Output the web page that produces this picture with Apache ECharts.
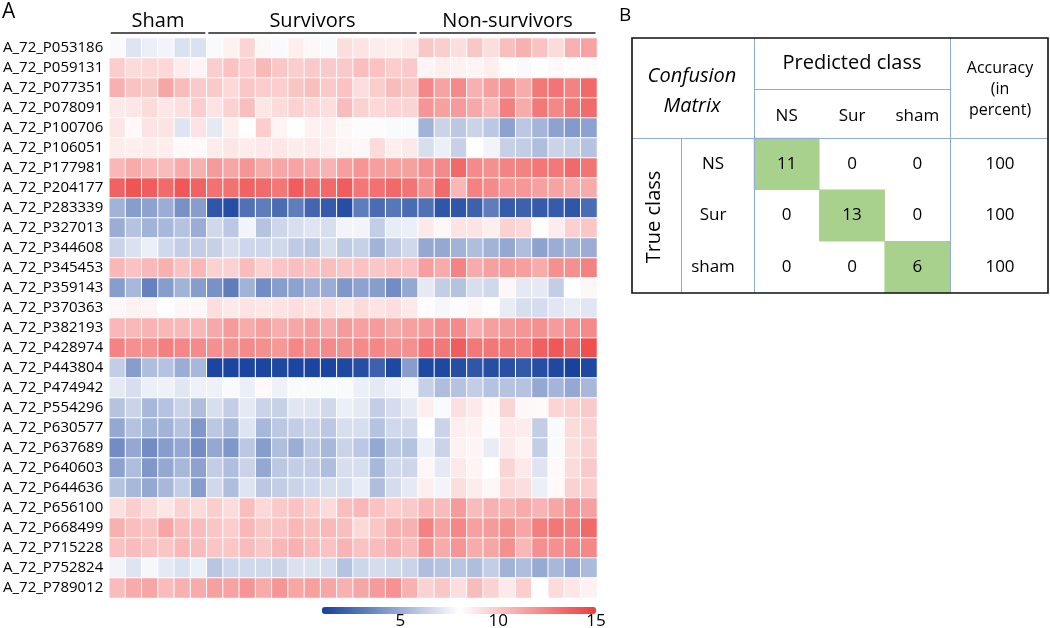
<!DOCTYPE html>
<html><head><meta charset="utf-8">
<script src="https://cdn.jsdelivr.net/npm/echarts@6/dist/echarts.min.js"></script>
<style>html,body{margin:0;padding:0;background:#fff}#c{width:1050px;height:628px}</style>
</head><body><div id="c"></div>
<script>
const genes = ['A_72_P053186','A_72_P059131','A_72_P077351','A_72_P078091','A_72_P100706','A_72_P106051','A_72_P177981','A_72_P204177','A_72_P283339','A_72_P327013','A_72_P344608','A_72_P345453','A_72_P359143','A_72_P370363','A_72_P382193','A_72_P428974','A_72_P443804','A_72_P474942','A_72_P554296','A_72_P630577','A_72_P637689','A_72_P640603','A_72_P644636','A_72_P656100','A_72_P668499','A_72_P715228','A_72_P752824','A_72_P789012'];
const groupNames = ['Sham','Survivors','Non-survivors'];
const sham = [
[7.8,7.0,7.4,7.6,6.9,6.9],
[9.8,9.3,9.4,9.4,8.7,8.4],
[10.8,10.2,10.0,11.2,10.4,9.9],
[8.8,8.9,9.3,8.9,9.1,9.8],
[8.9,8.2,9.0,9.0,7.0,9.0],
[8.7,8.6,8.7,8.6,8.2,8.2],
[10.6,11.0,10.6,10.4,11.0,10.8],
[13.6,14.1,13.8,13.3,14.0,13.6],
[5.2,4.4,4.6,5.0,4.0,4.4],
[5.0,5.8,5.2,5.4,5.8,5.0],
[6.4,6.9,7.4,6.6,6.2,6.2],
[10.6,10.2,10.5,10.8,10.2,10.6],
[4.4,5.4,3.4,4.4,5.2,4.4],
[8.3,8.5,8.4,8.0,8.3,8.3],
[10.6,10.5,10.7,10.6,10.5,10.6],
[12.4,12.0,12.0,12.6,12.3,12.2],
[6.2,4.4,5.6,5.8,5.0,5.4],
[7.2,6.8,7.4,7.5,7.1,7.5],
[5.8,6.4,5.4,5.8,6.4,5.6],
[4.8,5.8,5.2,5.2,5.8,4.2],
[3.8,4.8,3.8,4.4,4.8,3.8],
[4.6,5.6,4.2,4.8,5.4,4.6],
[5.8,5.4,4.8,5.4,6.2,4.4],
[9.1,9.8,9.3,8.9,9.6,9.3],
[10.8,10.3,10.2,11.2,10.4,10.4],
[10.2,10.4,10.2,10.1,10.6,10.4],
[7.6,7.0,7.7,7.2,6.9,7.4],
[10.4,11.0,11.2,10.4,10.8,11.0]];
const survivors = [
[7.8,8.5,9.5,8.3,7.8,8.6,8.3,7.8,9.2,9.0,8.7,8.6,8.8],
[9.8,10.2,9.8,10.5,10.0,9.8,9.9,9.9,9.9,10.3,10.2,9.8,9.9],
[9.9,9.4,10.0,9.8,9.8,10.1,10.3,9.9,10.2,9.2,9.8,10.4,10.1],
[9.0,9.6,10.3,8.9,9.3,9.6,9.4,9.2,10.4,9.6,9.4,9.5,9.5],
[7.2,8.6,8.0,9.8,8.4,8.0,8.5,8.6,8.3,7.9,7.9,7.8,7.8],
[8.7,8.9,8.7,8.8,8.9,8.7,8.8,8.6,8.4,8.3,9.3,8.6,8.8],
[11.6,11.2,11.8,11.0,11.2,11.3,11.0,10.7,11.5,11.8,11.5,11.4,11.4],
[13.1,13.1,13.6,13.3,12.9,13.8,13.2,13.4,13.8,12.9,13.1,13.4,13.0],
[1.8,1.5,2.8,3.2,2.6,3.2,2.4,2.0,1.5,3.2,2.6,3.0,2.6],
[6.6,6.0,7.6,5.8,6.5,6.8,7.0,6.8,7.6,7.6,6.2,7.3,7.4],
[6.3,6.8,6.5,6.5,6.6,6.1,5.9,6.8,6.1,6.3,5.2,6.1,6.6],
[9.6,9.6,10.4,9.6,10.1,10.3,10.2,10.3,10.1,10.2,10.0,10.2,10.2],
[4.0,3.2,5.2,3.8,4.4,4.6,5.0,5.0,4.2,4.6,4.4,3.8,4.8],
[9.2,8.8,9.0,8.9,9.0,9.2,9.0,9.2,8.9,9.3,9.0,9.2,8.8],
[11.1,11.6,11.0,11.4,10.9,11.2,11.4,11.0,11.6,11.4,11.6,11.1,11.4],
[12.0,12.0,12.2,12.0,11.7,12.3,12.0,12.2,12.0,12.2,12.3,12.0,12.0],
[1.2,1.2,1.2,1.2,1.3,1.2,1.2,1.2,1.3,1.5,2.2,1.3,4.4],
[7.5,7.8,7.4,8.2,7.5,7.8,7.8,7.8,7.8,7.4,7.2,7.5,7.7],
[6.8,6.2,7.2,6.4,6.3,7.1,7.0,6.6,7.4,7.2,6.2,6.7,7.2],
[6.0,5.4,7.0,5.4,6.0,6.2,6.4,6.0,6.8,6.8,5.8,6.6,6.6],
[4.8,4.2,6.0,4.4,5.6,5.0,6.0,5.4,6.4,6.0,4.8,6.0,5.8],
[6.2,5.6,6.4,4.8,6.0,6.2,6.2,5.6,6.8,6.8,5.4,6.6,6.5],
[6.6,5.6,7.0,6.0,6.2,6.4,6.6,6.8,6.8,7.3,5.6,6.7,7.2],
[9.8,9.3,10.3,9.4,9.9,10.2,9.8,9.3,10.3,10.6,10.2,9.8,9.9],
[10.1,9.8,10.6,10.0,10.2,10.6,10.3,10.5,10.3,9.4,10.0,10.8,10.8],
[10.1,10.0,10.4,10.0,10.6,10.8,10.4,10.2,10.7,10.2,10.4,10.8,10.4],
[5.9,6.5,6.6,6.6,6.4,6.9,6.9,6.7,5.8,6.5,6.7,6.6,6.4],
[11.4,11.3,11.8,11.0,11.8,11.2,11.4,11.2,10.8,11.2,11.6,11.9,10.8]];
const nonSurvivors = [
[10.0,9.8,9.2,10.0,9.2,10.3,10.8,10.2,9.3,10.8,11.3],
[8.4,8.6,8.5,8.4,8.6,8.1,7.8,8.0,8.2,8.1,8.1],
[12.3,11.3,12.2,10.8,11.5,12.0,11.0,12.8,13.0,12.5,13.4],
[11.8,11.4,11.6,11.1,10.6,12.6,11.0,12.8,12.3,12.8,13.3],
[5.2,6.4,6.0,6.4,6.0,4.6,6.0,5.3,4.6,4.3,4.6],
[6.8,7.4,6.3,8.0,7.6,6.3,6.2,5.6,6.4,6.3,5.8],
[12.0,12.2,13.4,12.2,12.0,12.4,12.5,12.9,12.8,13.4,13.0],
[12.0,13.3,10.6,12.5,12.2,11.7,11.7,11.4,11.3,11.0,11.0],
[2.8,1.8,1.8,2.2,3.2,2.0,2.2,2.0,2.0,1.8,2.6],
[8.8,8.3,9.0,9.0,8.6,9.6,9.4,8.1,8.7,9.7,10.0],
[4.8,4.8,5.2,5.6,5.2,4.8,5.6,4.6,5.0,5.2,5.0],
[11.5,11.0,12.4,11.0,11.4,11.6,11.5,11.0,12.0,12.0,12.5],
[7.2,6.2,5.8,6.8,6.6,8.3,7.2,7.2,6.2,8.0,8.3],
[8.1,7.7,7.9,8.3,8.0,7.3,6.8,6.7,7.1,7.3,7.1],
[11.6,12.0,12.2,10.9,11.5,11.6,11.8,12.0,11.6,11.9,12.2],
[13.0,12.8,13.8,12.8,12.9,12.8,12.6,13.7,14.0,13.3,14.3],
[1.3,1.3,1.5,1.8,1.5,1.6,1.9,1.5,1.3,1.1,1.3],
[6.3,5.6,5.8,6.2,5.8,5.8,5.8,4.8,5.3,4.8,5.4],
[8.6,7.8,9.1,8.8,8.2,9.5,8.3,8.2,9.5,9.6,9.9],
[8.0,6.4,8.6,8.5,7.9,8.8,8.7,6.2,7.8,9.3,9.6],
[7.4,6.4,8.5,8.4,7.3,8.8,8.4,6.2,7.8,9.2,9.6],
[8.3,7.2,8.8,8.4,8.0,9.5,8.8,7.0,8.2,9.3,9.9],
[8.6,7.6,9.2,8.7,8.3,9.4,9.2,7.4,8.2,9.6,9.8],
[10.6,10.4,11.6,10.4,10.8,10.7,11.0,10.7,11.2,11.8,11.4],
[12.5,11.4,12.3,11.4,11.6,12.0,11.2,12.6,12.9,12.6,13.4],
[11.8,11.0,11.8,11.0,11.2,12.0,10.6,12.0,12.0,12.2,12.3],
[5.6,5.8,5.9,5.6,6.2,5.2,5.6,4.9,5.4,4.9,5.5],
[9.6,10.0,9.2,10.4,9.6,8.8,9.8,8.0,9.3,8.9,8.5]];
const colorTicks = [5, 10, 15];
const cmClasses = ['NS', 'Sur', 'sham'];
const cmMatrix = [[11,0,0],[0,13,0],[0,0,6]];
const accuracy = [100, 100, 100];

const FONT = '"Open Sans", "Noto Sans", sans-serif';
const groups = [sham, survivors, nonSurvivors];
const columns = [];
groups.forEach((g, gi) => { for (let k = 0; k < g[0].length; k++) columns.push(groupNames[gi] + ' ' + (k + 1)); });
const heat = [];
genes.forEach((gn, r) => { let c = 0; groups.forEach(g => { g[r].forEach(v => { heat.push([c, r, v]); c++; }); }); });
const cmData = [];
cmMatrix.forEach((row, r) => row.forEach((v, c) => cmData.push({ value: [c, r, v], itemStyle: { color: v > 0 ? '#a9d18e' : 'rgba(255,255,255,0)' } })));

const chart = echarts.init(document.getElementById('c'), null, { renderer: 'canvas' });
chart.setOption({
  animation: false,
  textStyle: { fontFamily: FONT },
  grid: [
    { left: 108, top: 38, width: 489, height: 560 },
    { left: 322, top: 607, width: 274, height: 7 },
    { left: 754, top: 138, width: 196, height: 155 }
  ],
  xAxis: [
    { gridIndex: 0, type: 'category', data: columns, show: false },
    { gridIndex: 1, type: 'value', min: 1, max: 15, axisLine: { show: false }, axisTick: { show: false }, splitLine: { show: false },
      axisLabel: { customValues: colorTicks, margin: 4, fontSize: 17, color: '#000', fontFamily: FONT } },
    { gridIndex: 2, type: 'category', data: cmClasses, position: 'top', axisLine: { show: false }, axisTick: { show: false }, splitLine: { show: false },
      axisLabel: { margin: 13, fontSize: 17, color: '#000', fontFamily: FONT } }
  ],
  yAxis: [
    { gridIndex: 0, type: 'category', data: genes, inverse: true, axisLine: { show: false }, axisTick: { show: false },
      axisLabel: { margin: 6, fontSize: 15, color: '#000', fontFamily: FONT } },
    { gridIndex: 1, type: 'value', show: false },
    { gridIndex: 2, type: 'category', data: cmClasses, inverse: true, axisLine: { show: false }, axisTick: { show: false }, splitLine: { show: false },
      axisLabel: { align: 'center', margin: 41, fontSize: 17, color: '#000', fontFamily: FONT } }
  ],
  visualMap: [{
    type: 'continuous', seriesIndex: 0, min: 1, max: 15, orient: 'horizontal', left: 322, top: 607,
    itemWidth: 7, itemHeight: 274, padding: 0, calculable: false, hoverLink: false, text: null,
    inRange: { color: ['#15409c', '#ffffff', '#ee3c3c'] }
  }],
  series: [
    { type: 'heatmap', xAxisIndex: 0, yAxisIndex: 0, data: heat,
      itemStyle: { borderColor: '#fff', borderWidth: 1 }, emphasis: { disabled: true } },
    { type: 'heatmap', xAxisIndex: 2, yAxisIndex: 2, data: cmData, emphasis: { disabled: true },
      label: { show: true, formatter: p => String(p.value[2]), fontSize: 17, color: '#000', fontFamily: FONT } }
  ]
});

// annotations derived from axes
const c0 = chart.convertToPixel({ xAxisIndex: 0 }, 0);
const c1 = chart.convertToPixel({ xAxisIndex: 0 }, 1);
const bw = c1 - c0;
const gfx = [];
let start = 0;
groups.forEach((g, gi) => {
  const n = g[0].length;
  const xL = chart.convertToPixel({ xAxisIndex: 0 }, start) - bw / 2 + 1.5;
  const xR = chart.convertToPixel({ xAxisIndex: 0 }, start + n - 1) + bw / 2 - 1.5;
  gfx.push({ type: 'line', shape: { x1: xL, y1: 33, x2: xR, y2: 33 }, style: { stroke: '#222', lineWidth: 1.6 } });
  gfx.push({ type: 'text', x: (xL + xR) / 2, y: 21, style: { text: groupNames[gi], fontSize: 20, fontFamily: FONT, fill: '#000', align: 'center', verticalAlign: 'middle' } });
  start += n;
});
gfx.push({ type: 'text', x: 2, y: 12, style: { text: 'A', fontSize: 21, fontFamily: FONT, fill: '#000', align: 'left', verticalAlign: 'middle' } });
gfx.push({ type: 'text', x: 619, y: 16, style: { text: 'B', fontSize: 19, fontFamily: FONT, fill: '#000', align: 'left', verticalAlign: 'middle' } });
// confusion matrix table frame
const blue = '#8eaadb';
const L = (x1, y1, x2, y2, c, w) => gfx.push({ type: 'line', z: 10, shape: { x1, y1, x2, y2 }, style: { stroke: c, lineWidth: w } });
L(754.5, 38, 754.5, 293, blue, 1);
L(950.5, 38, 950.5, 293, blue, 1);
L(681.5, 138, 681.5, 293, blue, 1);
L(754, 89.5, 950, 89.5, blue, 1);
L(632, 138.5, 1048, 138.5, blue, 1);
gfx.push({ type: 'rect', z: 11, shape: { x: 632, y: 38, width: 416, height: 255 }, style: { fill: 'none', stroke: '#111', lineWidth: 1.6 } });
const T = (text, x, y, size, extra) => gfx.push(Object.assign({ type: 'text', z: 12, x, y, style: Object.assign({ text, fontSize: size, fontFamily: FONT, fill: '#000', align: 'center', verticalAlign: 'middle' }, extra || {}) }));
T('Confusion', 692, 76, 20, { fontStyle: 'italic' });
T('Matrix', 692, 106, 20, { fontStyle: 'italic' });
T('Predicted class', 852, 63, 20);
T('Accuracy', 1000, 68, 16);
T('(in', 1000, 89, 16);
T('percent)', 1000, 110, 16);
gfx.push({ type: 'text', z: 12, x: 654, y: 217, rotation: Math.PI / 2, style: { text: 'True class', fontSize: 20, fontFamily: FONT, fill: '#000', align: 'center', verticalAlign: 'middle' } });
accuracy.forEach((a, i) => {
  const y = chart.convertToPixel({ yAxisIndex: 2 }, i);
  T(String(a), 1000, y, 17);
});
chart.setOption({ graphic: gfx });
</script>
</body></html>
